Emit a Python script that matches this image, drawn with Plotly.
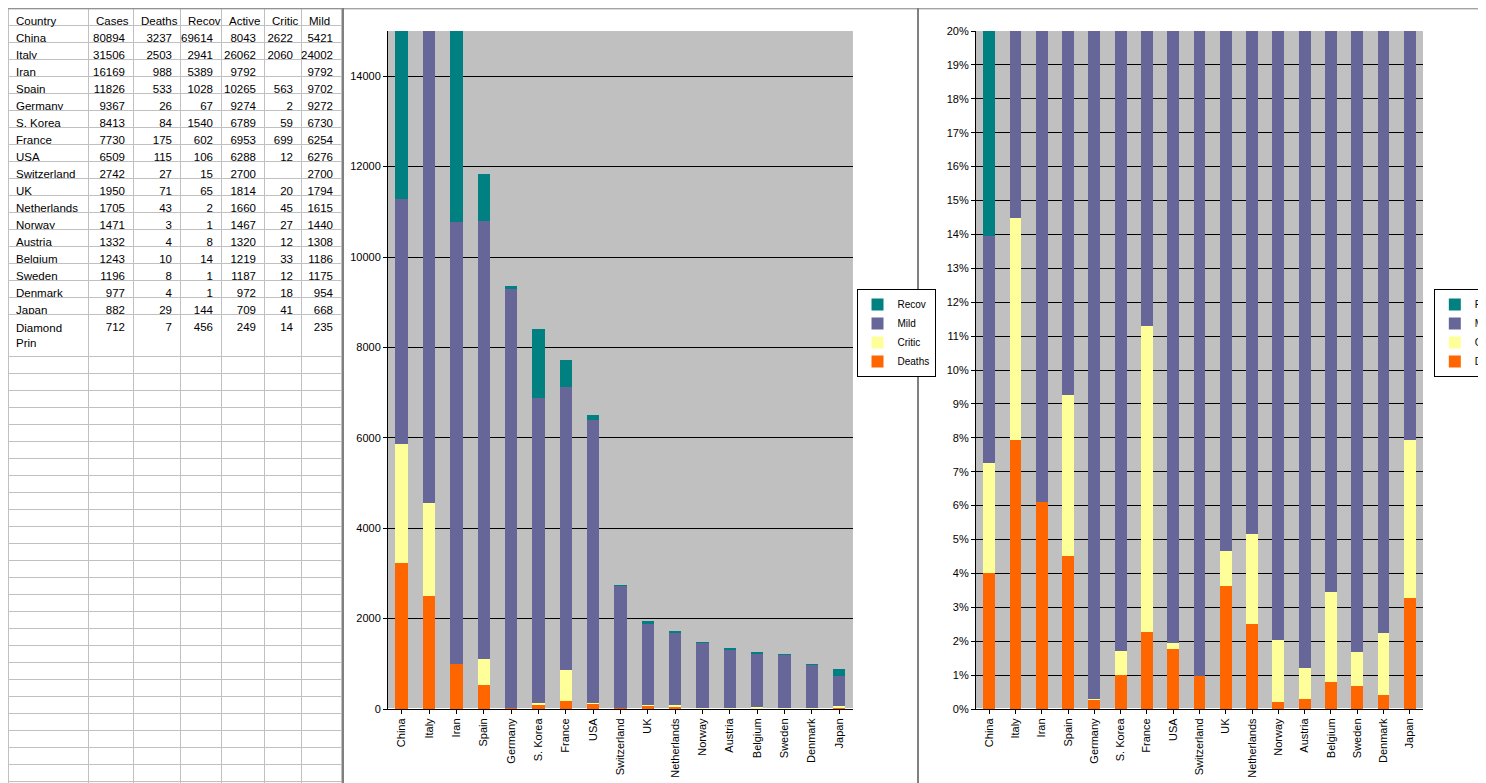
from plotly import graph_objects as go

countries = ['China', 'Italy', 'Iran', 'Spain', 'Germany', 'S. Korea', 'France', 'USA', 'Switzerland',
	'UK', 'Netherlands', 'Norway', 'Austria', 'Belgium', 'Sweden', 'Denmark', 'Japan', 'Diamond Prin']
cases = [80894, 31506, 16169, 11826, 9367, 8413, 7730, 6509, 2742, 1950, 1705, 1471, 1332, 1243, 1196, 977, 882, 712]
deaths = [3237, 2503, 988, 533, 26, 84, 175, 115, 27, 71, 43, 3, 4, 10, 8, 4, 29, 7]
recov = [69614, 2941, 5389, 1028, 67, 1540, 602, 106, 15, 65, 2, 1, 8, 14, 1, 1, 144, 456]
active = [8043, 26062, 9792, 10265, 9274, 6789, 6953, 6288, 2700, 1814, 1660, 1467, 1320, 1219, 1187, 972, 709, 249]
critic = [2622, 2060, None, 563, 2, 59, 699, 12, None, 20, 45, 27, 12, 33, 12, 18, 41, 14]
mild = [5421, 24002, 9792, 9702, 9272, 6730, 6254, 6276, 2700, 1794, 1615, 1440, 1308, 1186, 1175, 954, 668, 235]

n = 17  # charts leave out the last row
font = 'Liberation Sans'

fig = go.Figure()

# spreadsheet on the left
def col(v):
	return [('' if x is None else x) for x in v] + [''] * 27

fig.add_trace(go.Table(
	domain=dict(x=[0, 0.2245], y=[0, 1]),
	columnwidth=[80, 45, 47, 41, 43, 37, 40],
	header=dict(values=['Country', 'Cases', 'Deaths', 'Recov', 'Active', 'Critic', 'Mild'],
		align='left', height=17, fill_color='white', line_color='#c0c0c0',
		font=dict(family=font, size=11.5, color='black')),
	cells=dict(values=[col(countries), col(cases), col(deaths), col(recov), col(active), col(critic), col(mild)],
		align=['left'] + ['right'] * 6, height=17, fill_color='white', line_color='#c0c0c0',
		font=dict(family=font, size=11.5, color='black')),
))

colors = {'Deaths': '#FF6600', 'Critic': '#FFFF99', 'Mild': '#666699', 'Recov': '#008080'}
series = {'Deaths': deaths, 'Critic': critic, 'Mild': mild, 'Recov': recov}

for name, vals in series.items():
	v = [0 if x is None else x for x in vals[:n]]
	fig.add_trace(go.Bar(x=countries[:n], y=v, name=name, marker=dict(color=colors[name], line=dict(width=0)),
		xaxis='x', yaxis='y', legend='legend'))
	pct = [a / c for a, c in zip(v, cases[:n])]
	fig.add_trace(go.Bar(x=countries[:n], y=pct, name=name, marker=dict(color=colors[name], line=dict(width=0)),
		xaxis='x2', yaxis='y2', legend='legend2'))

axis_common = dict(showline=True, linecolor='black', linewidth=1, ticks='outside', ticklen=4,
	tickcolor='black', tickfont=dict(family=font, size=11, color='black'))

fig.update_layout(
	width=1486, height=783,
	margin=dict(l=0, r=0, t=0, b=0, autoexpand=False),
	paper_bgcolor='white', plot_bgcolor='#C0C0C0',
	barmode='stack', bargap=0.55,
	font=dict(family=font, size=11, color='black'),
	xaxis=dict(domain=[0.2557, 0.5686], tickangle=-90, anchor='y', automargin=False, **axis_common),
	yaxis=dict(domain=[0.1047, 0.9706], range=[0, 15000], dtick=2000, tickformat='d', showgrid=True,
		gridcolor='black', gridwidth=1, anchor='x', automargin=False, **axis_common),
	xaxis2=dict(domain=[0.6514, 0.9522], tickangle=-90, anchor='y2', automargin=False, **axis_common),
	yaxis2=dict(domain=[0.1047, 0.9706], range=[0, 0.2], dtick=0.01, tickformat='.0%', showgrid=True,
		gridcolor='black', gridwidth=1, anchor='x2', automargin=False, **axis_common),
	legend=dict(x=0.571, y=0.585, xanchor='left', yanchor='middle', bgcolor='white',
		bordercolor='black', borderwidth=1, font=dict(size=10), itemwidth=30),
	legend2=dict(x=0.9595, y=0.585, xanchor='left', yanchor='middle', bgcolor='white',
		bordercolor='black', borderwidth=1, font=dict(size=10), itemwidth=30),
	showlegend=True,
)

for xp in [335 / 1486, 910 / 1486]:
	fig.add_shape(type='line', xref='paper', yref='paper', x0=xp, x1=xp, y0=0, y1=1,
		line=dict(color='black', width=1))
fig.add_shape(type='line', xref='paper', yref='paper', x0=0, x1=1, y0=0.999, y1=0.999,
	line=dict(color='#808080', width=1))

fig.write_html("out.html")
